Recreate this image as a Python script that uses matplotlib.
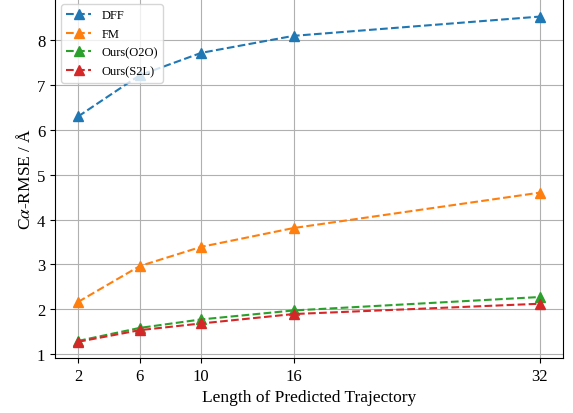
import matplotlib
matplotlib.use('Agg')
import matplotlib.pyplot as plt

plt.rcParams['font.family'] = ['Liberation Serif', 'DejaVu Serif']
plt.rcParams['mathtext.fontset'] = 'stix'

lengths = [2, 6, 10, 16, 32]
dff = [6.30, 7.22, 7.72, 8.10, 8.53]
fm = [2.16, 2.96, 3.39, 3.81, 4.60]
ours_o2o = [1.29, 1.58, 1.77, 1.97, 2.27]
ours_s2l = [1.27, 1.53, 1.68, 1.89, 2.12]

fig = plt.figure(figsize=(5.73, 4.14), dpi=100)
ax = fig.add_axes([0.096, 0.133, 0.8865, 0.87])

for vals, lab in [(dff, 'DFF'), (fm, 'FM'), (ours_o2o, 'Ours(O2O)'), (ours_s2l, 'Ours(S2L)')]:
    ax.plot(lengths, vals, ls='--', marker='^', markersize=7, lw=1.5, label=lab)

ax.set_xticks(lengths)
ax.set_yticks(range(1, 9))
ax.set_ylim(0.91, 8.95)
ax.tick_params(labelsize=12)
ax.grid(True, color='#b0b0b0', lw=0.8)
ax.set_xlabel('Length of Predicted Trajectory', fontsize=12.5)
ax.set_ylabel(r'C$\alpha$-RMSE / Å', fontsize=12.5, labelpad=2)
ax.legend(loc='upper left', fontsize=9, labelspacing=0.55)

fig.savefig('out.png', dpi=100)
